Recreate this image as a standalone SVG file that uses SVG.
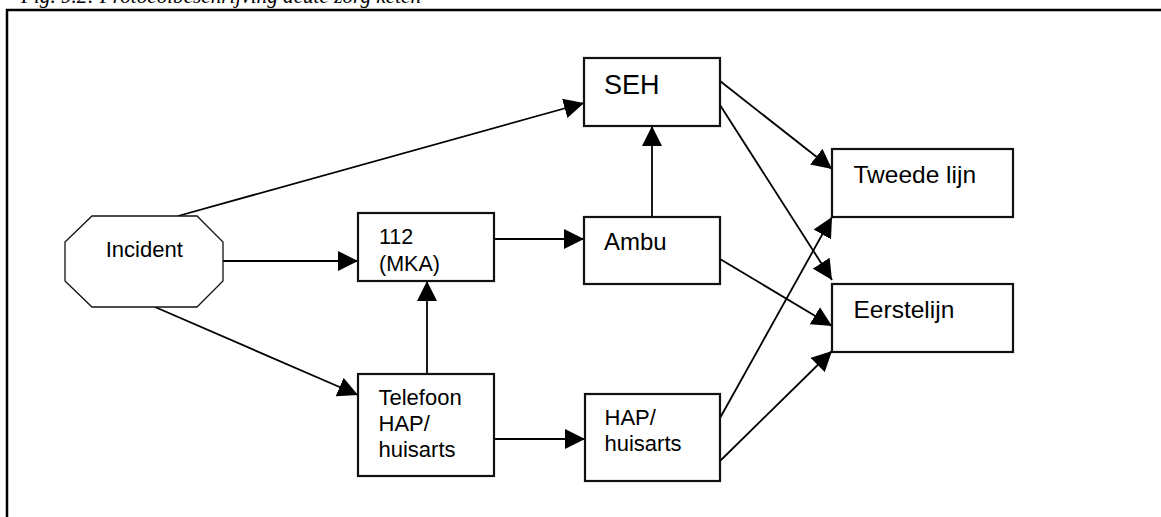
<svg xmlns="http://www.w3.org/2000/svg" width="1161" height="517" viewBox="0 0 1161 517">
<style>
.box{fill:#fff;stroke:#111;stroke-width:2.2}
.oct{fill:#fff;stroke:#111;stroke-width:1.3}
.lbl{font-family:"Liberation Sans",Arial,sans-serif;fill:#000}
.conn{fill:none;stroke:#000;stroke-width:1.8;marker-end:url(#ah)}
.cap{font-family:"Liberation Serif","Times New Roman",serif;font-style:italic;fill:#000}
</style>
<defs>
<marker id="ah" markerUnits="userSpaceOnUse" markerWidth="20" markerHeight="20" refX="20" refY="10" orient="auto">
<path d="M0,0 L20,10 L0,20 z" fill="#000"/>
</marker>
</defs>
<rect width="1161" height="517" fill="#fff"/>
<text class="cap" x="21" y="3" font-size="20" textLength="400" lengthAdjust="spacingAndGlyphs">Fig. 9.2: Protocolbeschrijving acute zorg keten</text>
<path d="M7,517 L7,10 L1161,10" fill="none" stroke="#000" stroke-width="2.5"/>
<g id="connectors">
<path class="conn" d="M178,216 L584,103"/>
<path class="conn" d="M223,261 L358,261"/>
<path class="conn" d="M155,307 L358,395"/>
<path class="conn" d="M494,239 L584,239"/>
<path class="conn" d="M427,374 L427,281"/>
<path class="conn" d="M494,439 L585,439"/>
<path class="conn" d="M652,217 L652,126"/>
<path class="conn" d="M720,81 L832,169"/>
<path class="conn" d="M720,105 L832,280"/>
<path class="conn" d="M720,259 L832,326"/>
<path class="conn" d="M720,418 L832,217"/>
<path class="conn" d="M720,461 L832,351"/>
</g>
<g id="incident">
<polygon class="oct" points="92,216 197,216 223,242 223,281 197,307 92,307 65,281 65,242"/>
<text class="lbl" x="105.7" y="256.7" font-size="22">Incident</text>
</g>
<g id="mka">
<rect class="box" x="358" y="213" width="136" height="68"/>
<text class="lbl" x="379" y="244" font-size="21.5">112</text>
<text class="lbl" x="379" y="270.7" font-size="21.5">(MKA)</text>
</g>
<g id="telefoon">
<rect class="box" x="358" y="374" width="136" height="102"/>
<text class="lbl" x="378.5" y="405" font-size="22">Telefoon</text>
<text class="lbl" x="378.5" y="431" font-size="22">HAP/</text>
<text class="lbl" x="378.5" y="457" font-size="22">huisarts</text>
</g>
<g id="seh">
<rect class="box" x="584" y="58" width="136" height="68"/>
<text class="lbl" x="604" y="94" font-size="27">SEH</text>
</g>
<g id="ambu">
<rect class="box" x="584" y="217" width="136" height="67"/>
<text class="lbl" x="604" y="250" font-size="24">Ambu</text>
</g>
<g id="hap">
<rect class="box" x="585" y="394" width="135" height="87"/>
<text class="lbl" x="604.5" y="425" font-size="22">HAP/</text>
<text class="lbl" x="604.5" y="450.5" font-size="22">huisarts</text>
</g>
<g id="tweede">
<rect class="box" x="832" y="149" width="181" height="68"/>
<text class="lbl" x="853.5" y="182.5" font-size="24.5">Tweede lijn</text>
</g>
<g id="eerste">
<rect class="box" x="832" y="284" width="181" height="68"/>
<text class="lbl" x="853.5" y="317.5" font-size="24.5">Eerstelijn</text>
</g>
</svg>
